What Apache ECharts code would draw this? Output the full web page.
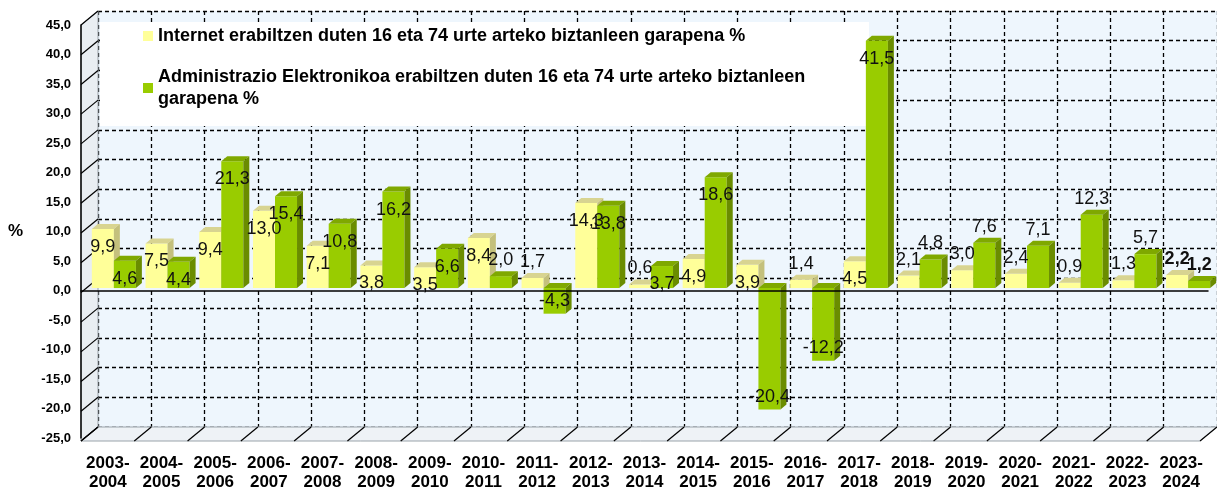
<!DOCTYPE html>
<html>
<head>
<meta charset="utf-8">
<script src="https://cdn.jsdelivr.net/npm/echarts@6/dist/echarts.min.js"></script>
<style>
html,body{margin:0;padding:0;background:#fff;}
#chart{width:1217px;height:492px;}
</style>
</head>
<body>
<div id="chart"></div>
<script>
const categories = ['2003-2004','2004-2005','2005-2006','2006-2007','2007-2008','2008-2009','2009-2010','2010-2011','2011-2012','2012-2013','2013-2014','2014-2015','2015-2016','2016-2017','2017-2018','2018-2019','2019-2020','2020-2021','2021-2022','2022-2023','2023-2024'];
const internet = [9.9,7.5,9.4,13.0,7.1,3.8,3.5,8.4,1.7,14.3,0.6,4.9,3.9,1.4,4.5,2.1,3.0,2.4,0.9,1.3,2.2];
const admin = [4.6,4.4,21.3,15.4,10.8,16.2,6.6,2.0,-4.3,13.8,3.7,18.6,-20.4,-12.2,41.5,4.8,7.6,7.1,12.3,5.7,1.2];
const yTicks = [-25,-20,-15,-10,-5,0,5,10,15,20,25,30,35,40,45];
const seriesNames = ['Internet erabiltzen duten 16 eta 74 urte arteko biztanleen garapena %','Administrazio Elektronikoa erabiltzen duten 16 eta 74 urte arteko biztanleen garapena %'];

const FONT = '"Liberation Sans", Arial, sans-serif';
const fmt = v => v.toFixed(1).replace('.', ',');
const palettes = [
  {front:'#FFFF99', top:'#D8D491', side:'#C4C07C'},
  {front:'#99CC00', top:'#7FA800', side:'#6A8C00'}
];
const DX = 6, DY = 5;

function bar3D(sIdx){
  const pal = palettes[sIdx];
  return function(params, api){
    const i = api.value(0), v = api.value(1);
    const band = api.size([1,0])[0];
    const c = api.coord([i,0]);
    const t = api.coord([i,v]);
    const w = band*0.41;
    const x0 = c[0] - w + sIdx*w;
    const yUp = Math.min(c[1], t[1]), yDn = Math.max(c[1], t[1]);
    const children = [
      {type:'rect', shape:{x:x0, y:yUp, width:w, height:yDn-yUp}, style:{fill:pal.front}},
      {type:'polygon', shape:{points:[[x0,yUp],[x0+DX,yUp-DY],[x0+w+DX,yUp-DY],[x0+w,yUp]]}, style:{fill:pal.top}},
      {type:'polygon', shape:{points:[[x0+w,yUp],[x0+w+DX,yUp-DY],[x0+w+DX,yDn-DY],[x0+w,yDn]]}, style:{fill:pal.side}}
    ];
    let ly;
    if (v < 0) ly = yDn - 13;
    else if (v >= 3.5 && i < 15) ly = yUp + 18;
    else ly = yUp - 16;
    const last = i === categories.length - 1;
    children.push({type:'text', x:x0 + w/2, y:ly, z2:100,
      style:{text:fmt(v), fill:'#111', font:(last?'bold ':'') + '18px ' + FONT, align:'center', verticalAlign:'middle'}});
    return {type:'group', children};
  };
}

function frame(params, api){
  const cs = params.coordSys;
  const fx = -17, fy = 14;
  const bx = cs.x, by = cs.y, bw = cs.width, bh = cs.height;
  const band = api.size([1,0])[0];
  const children = [];
  children.push({type:'polygon', shape:{points:[[bx,by],[bx,by+bh],[bx+fx,by+bh+fy],[bx+fx,by+fy]]}, style:{fill:'#E9EEF2', stroke:'#9AA3AA', lineWidth:1}});
  children.push({type:'polygon', shape:{points:[[bx,by+bh],[bx+bw,by+bh],[bx+bw+fx,by+bh+fy],[bx+fx,by+bh+fy]]}, style:{fill:'#EEF2F6', stroke:'#9AA3AA', lineWidth:1}});
  yTicks.forEach(v => {
    const p = api.coord([0, v]);
    children.push({type:'line', shape:{x1:bx, y1:p[1], x2:bx+fx, y2:p[1]+fy}, style:{stroke:'#000', lineWidth:1.2}});
  });
  for (let k = 0; k <= categories.length; k++) {
    const x = bx + k*band;
    children.push({type:'line', shape:{x1:x, y1:by+bh, x2:x+fx, y2:by+bh+fy}, style:{stroke:'#000', lineWidth:1.2}});
  }
  return {type:'group', children};
}

const dashed = {show:true, lineStyle:{color:'#000', type:[4,3], width:1.3}};
const chart = echarts.init(document.getElementById('chart'), null, {renderer:'canvas'});
chart.setOption({
  animation:false,
  backgroundColor:'#fff',
  textStyle:{fontFamily:FONT},
  grid:[
    {left:87, top:20, width:1128, height:417},
    {left:98, top:11, width:1128, height:416, show:true, backgroundColor:'#EEF6FD', borderWidth:0},
    {left:81, top:25, width:1127, height:416}
  ],
  legend:{
    orient:'vertical', left:100, top:22, z:3,
    backgroundColor:'#fff', padding:[3,21,5,43], itemGap:8,
    icon:'rect', itemWidth:10, itemHeight:10,
    textStyle:{fontFamily:FONT, fontSize:18, fontWeight:'bold', color:'#000', width:690, overflow:'break', lineHeight:22},
    data:[
      {name:seriesNames[0]},
      {name:seriesNames[1], textStyle:{padding:[22,0,0,0]}}
    ]
  },
  xAxis:[
    {type:'category', gridIndex:0, data:categories, show:false},
    {type:'category', gridIndex:1, data:categories, axisLine:{show:false}, axisTick:{show:false}, axisLabel:{show:false}, splitLine:Object.assign({interval:0}, dashed)},
    {type:'category', gridIndex:2, data:categories, z:10,
      axisLine:{show:true, lineStyle:{color:'#000', width:1.5}}, axisTick:{show:false},
      axisLabel:{interval:0, margin:16, fontFamily:FONT, fontSize:17, fontWeight:'bold', color:'#000', lineHeight:19,
        formatter:v => v.replace('-', '-\n')},
      splitLine:{show:false}}
  ],
  yAxis:[
    {type:'value', gridIndex:0, min:-25, max:45, interval:5, show:false},
    {type:'value', gridIndex:1, min:-25, max:45, interval:5, axisLine:{show:false}, axisTick:{show:false}, axisLabel:{show:false}, splitLine:dashed},
    {type:'value', gridIndex:2, min:-25, max:45, interval:5, z:10,
      name:'%', nameLocation:'middle', nameRotate:0, nameGap:58,
      nameTextStyle:{fontFamily:FONT, fontSize:17, fontWeight:'bold', color:'#000', padding:[16,0,0,0]},
      axisLine:{show:true, lineStyle:{color:'#000', width:1.5}}, axisTick:{show:false},
      axisLabel:{margin:10, fontFamily:FONT, fontSize:13, fontWeight:'bold', color:'#000', formatter:v => fmt(v)},
      splitLine:{show:false}}
  ],
  series:[
    {type:'custom', name:'frame', xAxisIndex:1, yAxisIndex:1, z:1, silent:true, clip:false,
      data:[[0,0]], renderItem:frame},
    {type:'custom', name:seriesNames[0], xAxisIndex:0, yAxisIndex:0, z:5, clip:false,
      itemStyle:{color:palettes[0].front},
      data:internet.map((v,i)=>[i,v]), encode:{x:0,y:1}, renderItem:bar3D(0)},
    {type:'custom', name:seriesNames[1], xAxisIndex:0, yAxisIndex:0, z:5, clip:false,
      itemStyle:{color:palettes[1].front},
      data:admin.map((v,i)=>[i,v]), encode:{x:0,y:1}, renderItem:bar3D(1)}
  ]
});
</script>
</body>
</html>
